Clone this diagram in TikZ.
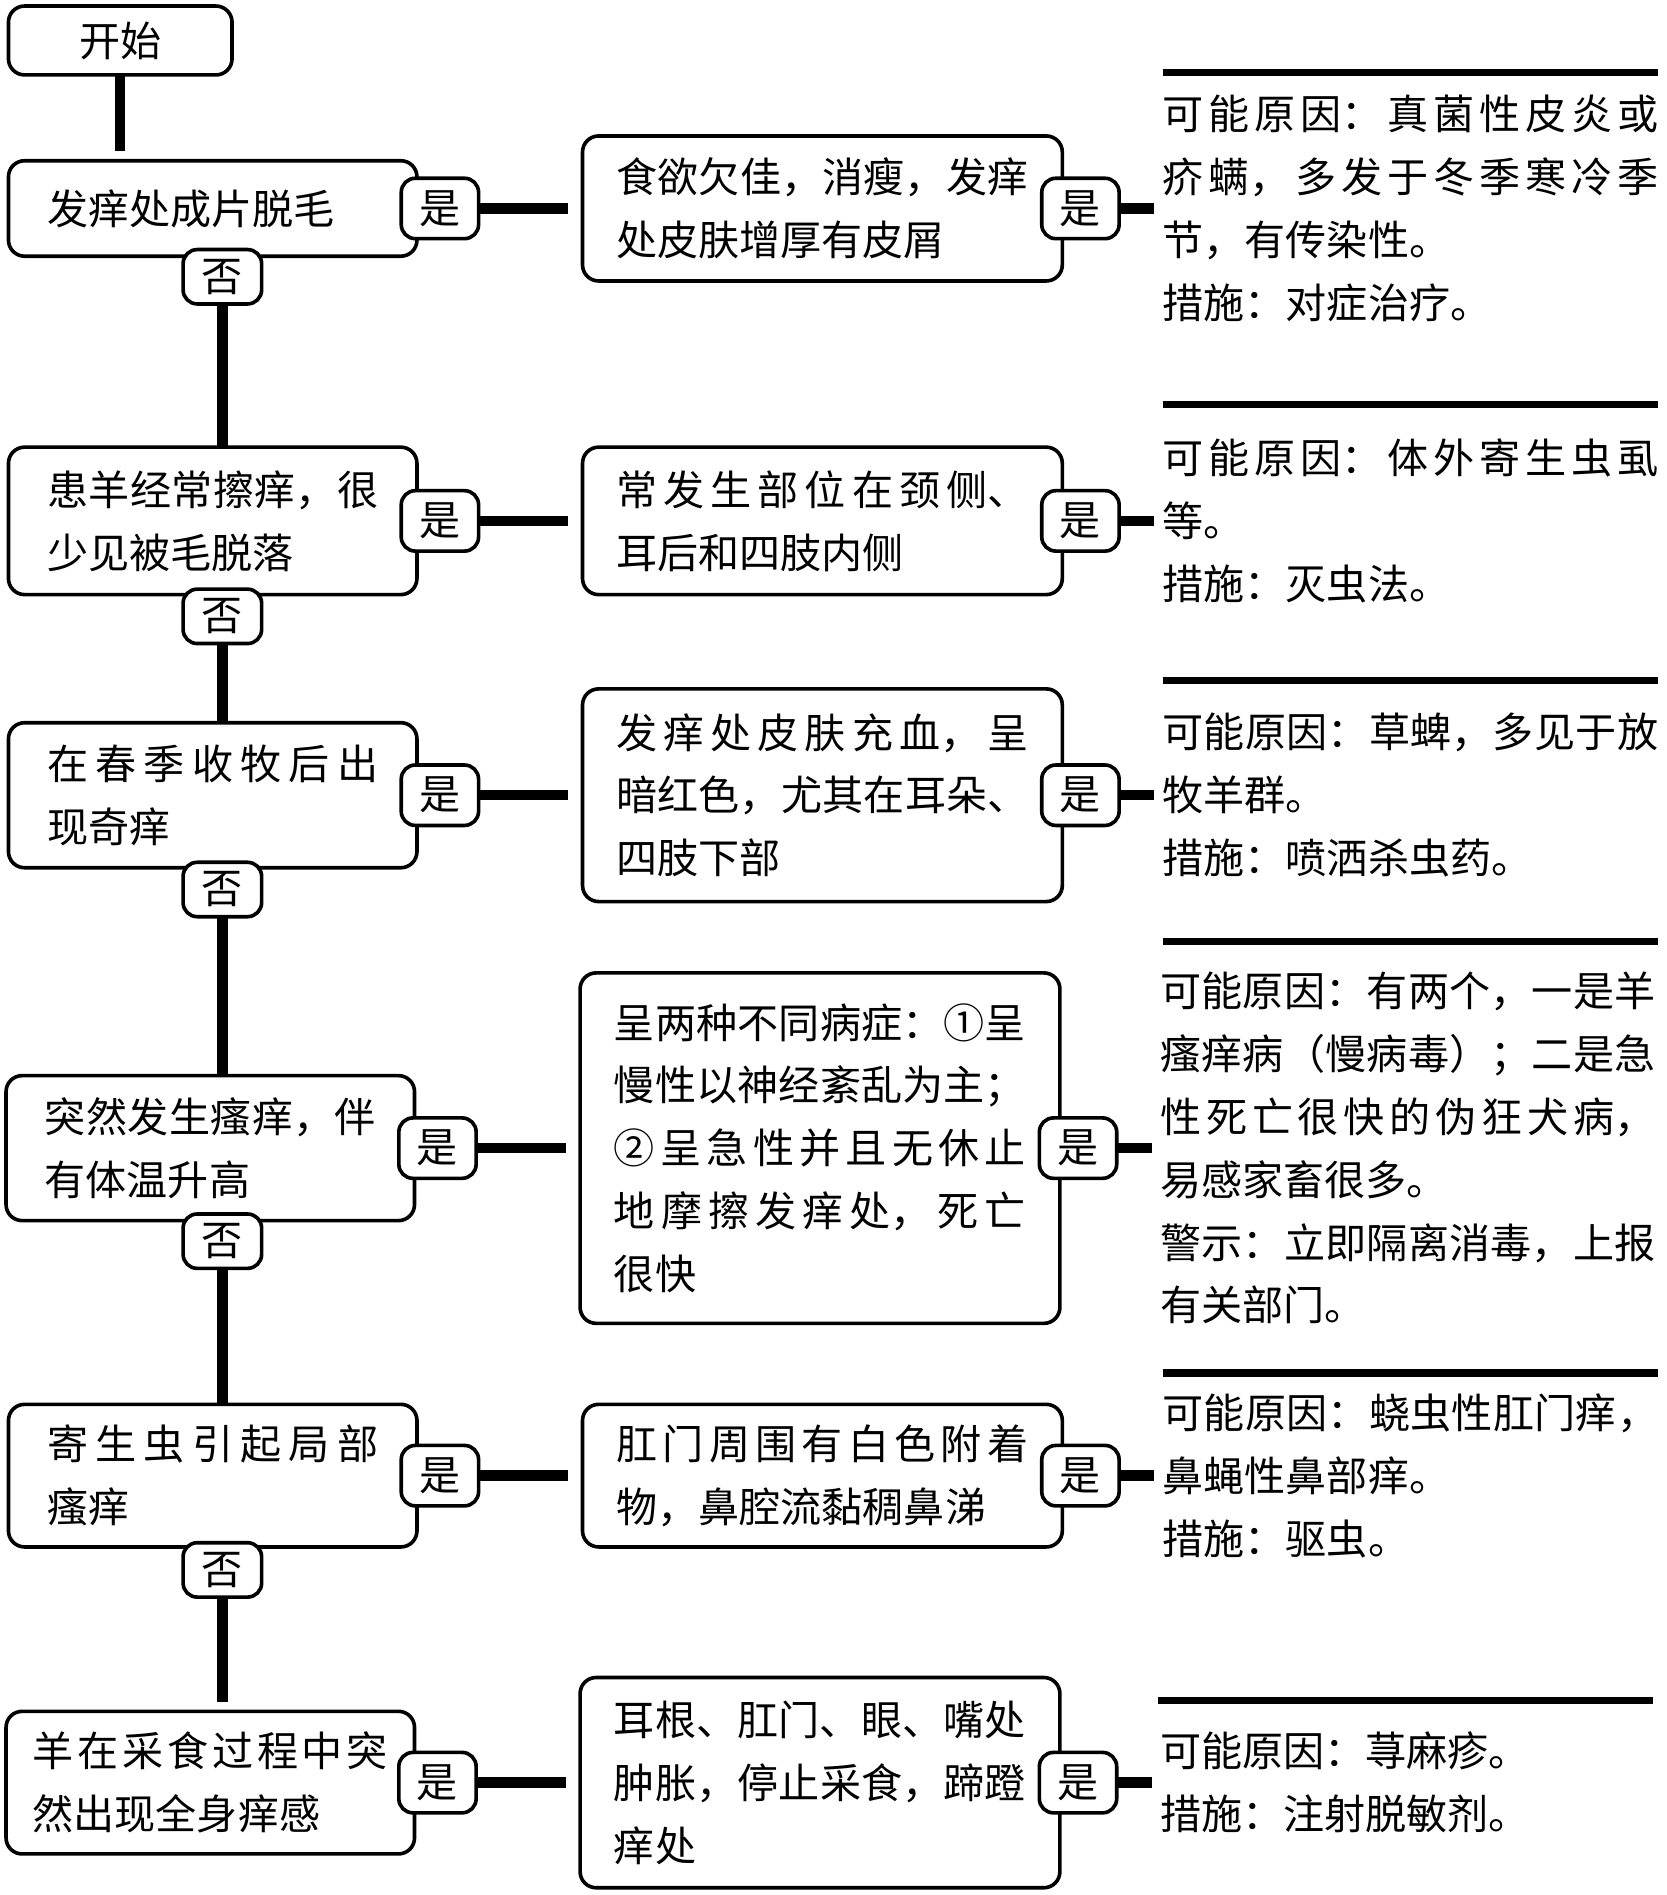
\documentclass[tikz,border=0pt]{standalone}
\usepackage{fontspec}
\setmainfont{Noto Sans CJK SC}
\usetikzlibrary{positioning}
\XeTeXlinebreaklocale "zh"
\XeTeXlinebreakskip=0pt plus 4pt

\tikzset{
  box/.style={draw,line width=1.8pt,rounded corners=8pt,fill=white,inner ysep=0pt,outer sep=0pt,align=justify},
  qbox/.style={box,minimum width=202.8pt,inner xsep=19.2pt,text width=164.4pt},
  abox/.style={box,minimum width=238.2pt,inner xsep=16.8pt,text width=204.6pt},
  res/.style={inner sep=0pt,outer sep=0pt,text width=246pt,align=justify},
  tag/.style={draw,line width=1.8pt,rounded corners=7pt,fill=white,minimum width=38.4pt,minimum height=30pt,inner sep=0pt,outer sep=0pt},
  link/.style={line width=5.2pt},
  rule/.style={line width=3.6pt}
}

\begin{document}
\begin{tikzpicture}[x=0.6pt,y=-0.6pt,font=\fontsize{20.4}{31.2}\selectfont]
  \useasboundingbox (0,0) rectangle (1379,1568);

  \node[draw,line width=1.8pt,rounded corners=8pt,outer sep=0pt,minimum width=111pt,minimum height=34.2pt] (start) at (99.5,33.5) {开始};

  % row 1
  \node[qbox,minimum height=47.4pt] (q1) at (176,172.5) {发痒处成片脱毛};
  \node[tag,right=-7.8pt of q1]      (y1) {是};
  \node[abox,minimum height=72pt,right=51.6pt of y1] (a1) {食欲欠佳，消瘦，发痒\linebreak 处皮肤增厚有皮屑};
  \node[tag,right=-10.2pt of a1]     (z1) {是};
  \node[res,right=21.6pt of z1]      (r1) {可能原因：真菌性皮炎或\linebreak 疥螨，多发于冬季寒冷季\linebreak 节，有传染性。\\措施：对症治疗。};
  \node[tag,minimum width=39pt,minimum height=27pt] (n1) at ([shift={(8,17)}]q1.south) {否};

  % row 2
  \node[qbox,minimum height=73.2pt] (q2) at (176,431) {患羊经常擦痒，很\linebreak 少见被毛脱落};
  \node[tag,right=-7.8pt of q2]      (y2) {是};
  \node[abox,minimum height=73.2pt,right=51.6pt of y2] (a2) {常发生部位在颈侧、\linebreak 耳后和四肢内侧};
  \node[tag,right=-10.2pt of a2]     (z2) {是};
  \node[res,right=21.6pt of z2]      (r2) {可能原因：体外寄生虫虱\linebreak 等。\\措施：灭虫法。};
  \node[tag,minimum width=39pt,minimum height=27pt] (n2) at ([shift={(8,18)}]q2.south) {否};

  % row 3
  \node[qbox,minimum height=72pt] (q3) at (176,658) {在春季收牧后出\linebreak 现奇痒};
  \node[tag,right=-7.8pt of q3]      (y3) {是};
  \node[abox,minimum height=105.6pt,right=51.6pt of y3] (a3) {发痒处皮肤充血，呈\linebreak 暗红色，尤其在耳朵、\linebreak 四肢下部};
  \node[tag,right=-10.2pt of a3]     (z3) {是};
  \node[res,right=21.6pt of z3]      (r3) {可能原因：草蜱，多见于放\linebreak 牧羊群。\\措施：喷洒杀虫药。};
  \node[tag,minimum width=39pt,minimum height=27pt] (n3) at ([shift={(8,18)}]q3.south) {否};

  % row 4
  \node[qbox,minimum height=72pt] (q4) at (174,950) {突然发生瘙痒，伴\linebreak 有体温升高};
  \node[tag,right=-7.8pt of q4]      (y4) {是};
  \node[abox,minimum height=174pt,right=51.6pt of y4] (a4) {呈两种不同病症：①呈\linebreak 慢性以神经紊乱为主；\linebreak ②呈急性并且无休止\linebreak 地摩擦发痒处，死亡\linebreak 很快};
  \node[tag,right=-10.2pt of a4]     (z4) {是};
  \node[res,right=21.6pt of z4]      (r4) {可能原因：有两个，一是羊\linebreak 瘙痒病（慢病毒）；二是急\linebreak 性死亡很快的伪狂犬病，\linebreak 易感家畜很多。\\警示：立即隔离消毒，上报\linebreak 有关部门。};
  \node[tag,minimum width=39pt,minimum height=27pt] (n4) at ([shift={(10,17)}]q4.south) {否};

  % row 5
  \node[qbox,minimum height=70.8pt] (q5) at (176,1221) {寄生虫引起局部\linebreak 瘙痒};
  \node[tag,right=-7.8pt of q5]      (y5) {是};
  \node[abox,minimum height=70.8pt,right=51.6pt of y5] (a5) {\parfillskip=0pt 肛门周围有白色附着\linebreak 物，鼻腔流黏稠鼻涕};
  \node[tag,right=-10.2pt of a5]     (z5) {是};
  \node[res,right=21.6pt of z5]      (r5) {可能原因：蛲虫性肛门痒，\linebreak 鼻蝇性鼻部痒。\\措施：驱虫。};
  \node[tag,minimum width=39pt,minimum height=27pt] (n5) at ([shift={(8,19)}]q5.south) {否};

  % row 6
  \node[qbox,minimum height=70.8pt,inner xsep=13.2pt,text width=176.4pt] (q6) at (174,1475) {羊在采食过程中突\linebreak 然出现全身痒感};
  \node[tag,right=-7.8pt of q6]      (y6) {是};
  \node[abox,minimum height=104.4pt,right=51.6pt of y6] (a6) {耳根、肛门、眼、嘴处\linebreak 肿胀，停止采食，蹄蹬\linebreak 痒处};
  \node[tag,right=-10.2pt of a6]     (z6) {是};
  \node[res,right=21.6pt of z6]      (r6) {可能原因：荨麻疹。\\措施：注射脱敏剂。};

  % rules over the results
  \draw[rule] (962,60) -- (1372,60);
  \draw[rule] (962,335) -- (1372,335);
  \draw[rule] (962,563) -- (1372,563);
  \draw[rule] (962,779) -- (1372,779);
  \draw[rule] (962,1136) -- (1372,1136);
  \draw[rule] (958,1407) -- (1368,1407);

  \path[link] (start.south) edge [shorten >=4.8pt] (start.south |- q1.north)
              (y1) edge [shorten >=7.2pt] (a1)
              (z1) edge [shorten >=4.2pt] (r1)
              (n1) edge                   (n1 |- q2.north)
              (y2) edge [shorten >=7.2pt] (a2)
              (z2) edge [shorten >=4.2pt] (r2)
              (n2) edge                   (n2 |- q3.north)
              (y3) edge [shorten >=7.2pt] (a3)
              (z3) edge [shorten >=4.2pt] (r3)
              (n3) edge                   (n3 |- q4.north)
              (y4) edge [shorten >=7.2pt] (a4)
              (z4) edge [shorten >=4.2pt] (r4)
              (n4) edge                   (n4 |- q5.north)
              (y5) edge [shorten >=7.2pt] (a5)
              (z5) edge [shorten >=4.2pt] (r5)
              (n5) edge [shorten >=4.8pt] (n5 |- q6.north)
              (y6) edge [shorten >=7.2pt] (a6)
              (z6) edge [shorten >=4.2pt] (r6);
\end{tikzpicture}
\end{document}
